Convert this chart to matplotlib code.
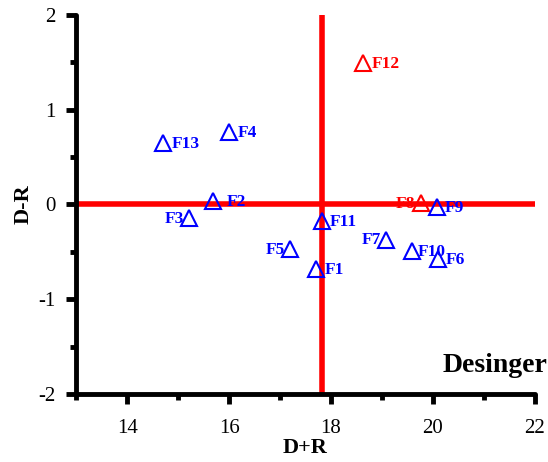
import matplotlib

matplotlib.use("Agg")
import matplotlib.pyplot as plt
from matplotlib.ticker import MultipleLocator

plt.rcParams["font.family"] = ["Liberation Serif", "DejaVu Serif"]
plt.rcParams["axes.unicode_minus"] = False

# factor labels and their (D+R, D-R) values
labels = ["F1", "F2", "F3", "F4", "F5", "F6", "F7", "F8", "F9", "F10", "F11", "F12", "F13"]
d_plus_r = [17.71, 15.69, 15.22, 16.0, 17.2, 20.1, 19.08, 19.76, 20.08, 19.59, 17.82, 18.63, 14.71]
d_minus_r = [-0.68, 0.04, -0.14, 0.76, -0.47, -0.58, -0.37, 0.01, -0.03, -0.49, -0.17, 1.49, 0.65]
colors = ["blue", "blue", "blue", "blue", "blue", "blue", "blue", "red", "blue", "blue", "blue", "red", "blue"]
label_left = {"F3", "F5", "F7", "F8"}
label_gap = {"F2": 0.27, "F10": 0.12}

mean_x = 17.82

fig = plt.figure(figsize=(5.48, 4.62), dpi=100)
ax = fig.add_axes([0.139, 0.147, 0.837, 0.821])

# red cross lines
ax.plot([13, 22], [0, 0], color="red", lw=4, solid_capstyle="round", zorder=2)
ax.plot([mean_x, mean_x], [-2, 2], color="red", lw=4, solid_capstyle="round", zorder=2)

for lab, x, y, c in zip(labels, d_plus_r, d_minus_r, colors):
    ax.plot(x, y, marker="^", ms=11, mfc="none", mec=c, mew=1.5, ls="none", zorder=3)
    if lab in label_left:
        ax.text(x - 0.1, y - 0.01, lab, color=c, fontsize=12.5, fontweight="bold",
                ha="right", va="center", zorder=4)
    else:
        ax.text(x + label_gap.get(lab, 0.16), y - 0.01, lab, color=c, fontsize=12.5,
                fontweight="bold", ha="left", va="center", zorder=4)

ax.set_xlim(13, 22)
ax.set_ylim(-2, 2)
ax.xaxis.set_major_locator(MultipleLocator(2))
ax.xaxis.set_minor_locator(MultipleLocator(1))
ax.yaxis.set_major_locator(MultipleLocator(1))
ax.yaxis.set_minor_locator(MultipleLocator(0.5))
ax.set_xticks([14, 16, 18, 20, 22])

for side in ["top", "right"]:
    ax.spines[side].set_visible(False)
for side in ["left", "bottom"]:
    ax.spines[side].set_linewidth(3.5)
    ax.spines[side].set_capstyle("round")

ax.tick_params(which="major", direction="out", length=7, width=3.5, labelsize=15)
ax.tick_params(which="minor", direction="out", length=4, width=3.5)
ax.tick_params(axis="x", which="major", pad=11)
ax.tick_params(axis="y", which="major", pad=8)

ax.set_xlabel("D+R", fontsize=16, fontweight="bold", labelpad=0)
ax.set_ylabel("D-R", fontsize=16, fontweight="bold", labelpad=3)

ax.text(22.25, -1.7, "Desinger", fontsize=20, fontweight="bold", ha="right", va="center")

fig.savefig("out.png", dpi=100)
